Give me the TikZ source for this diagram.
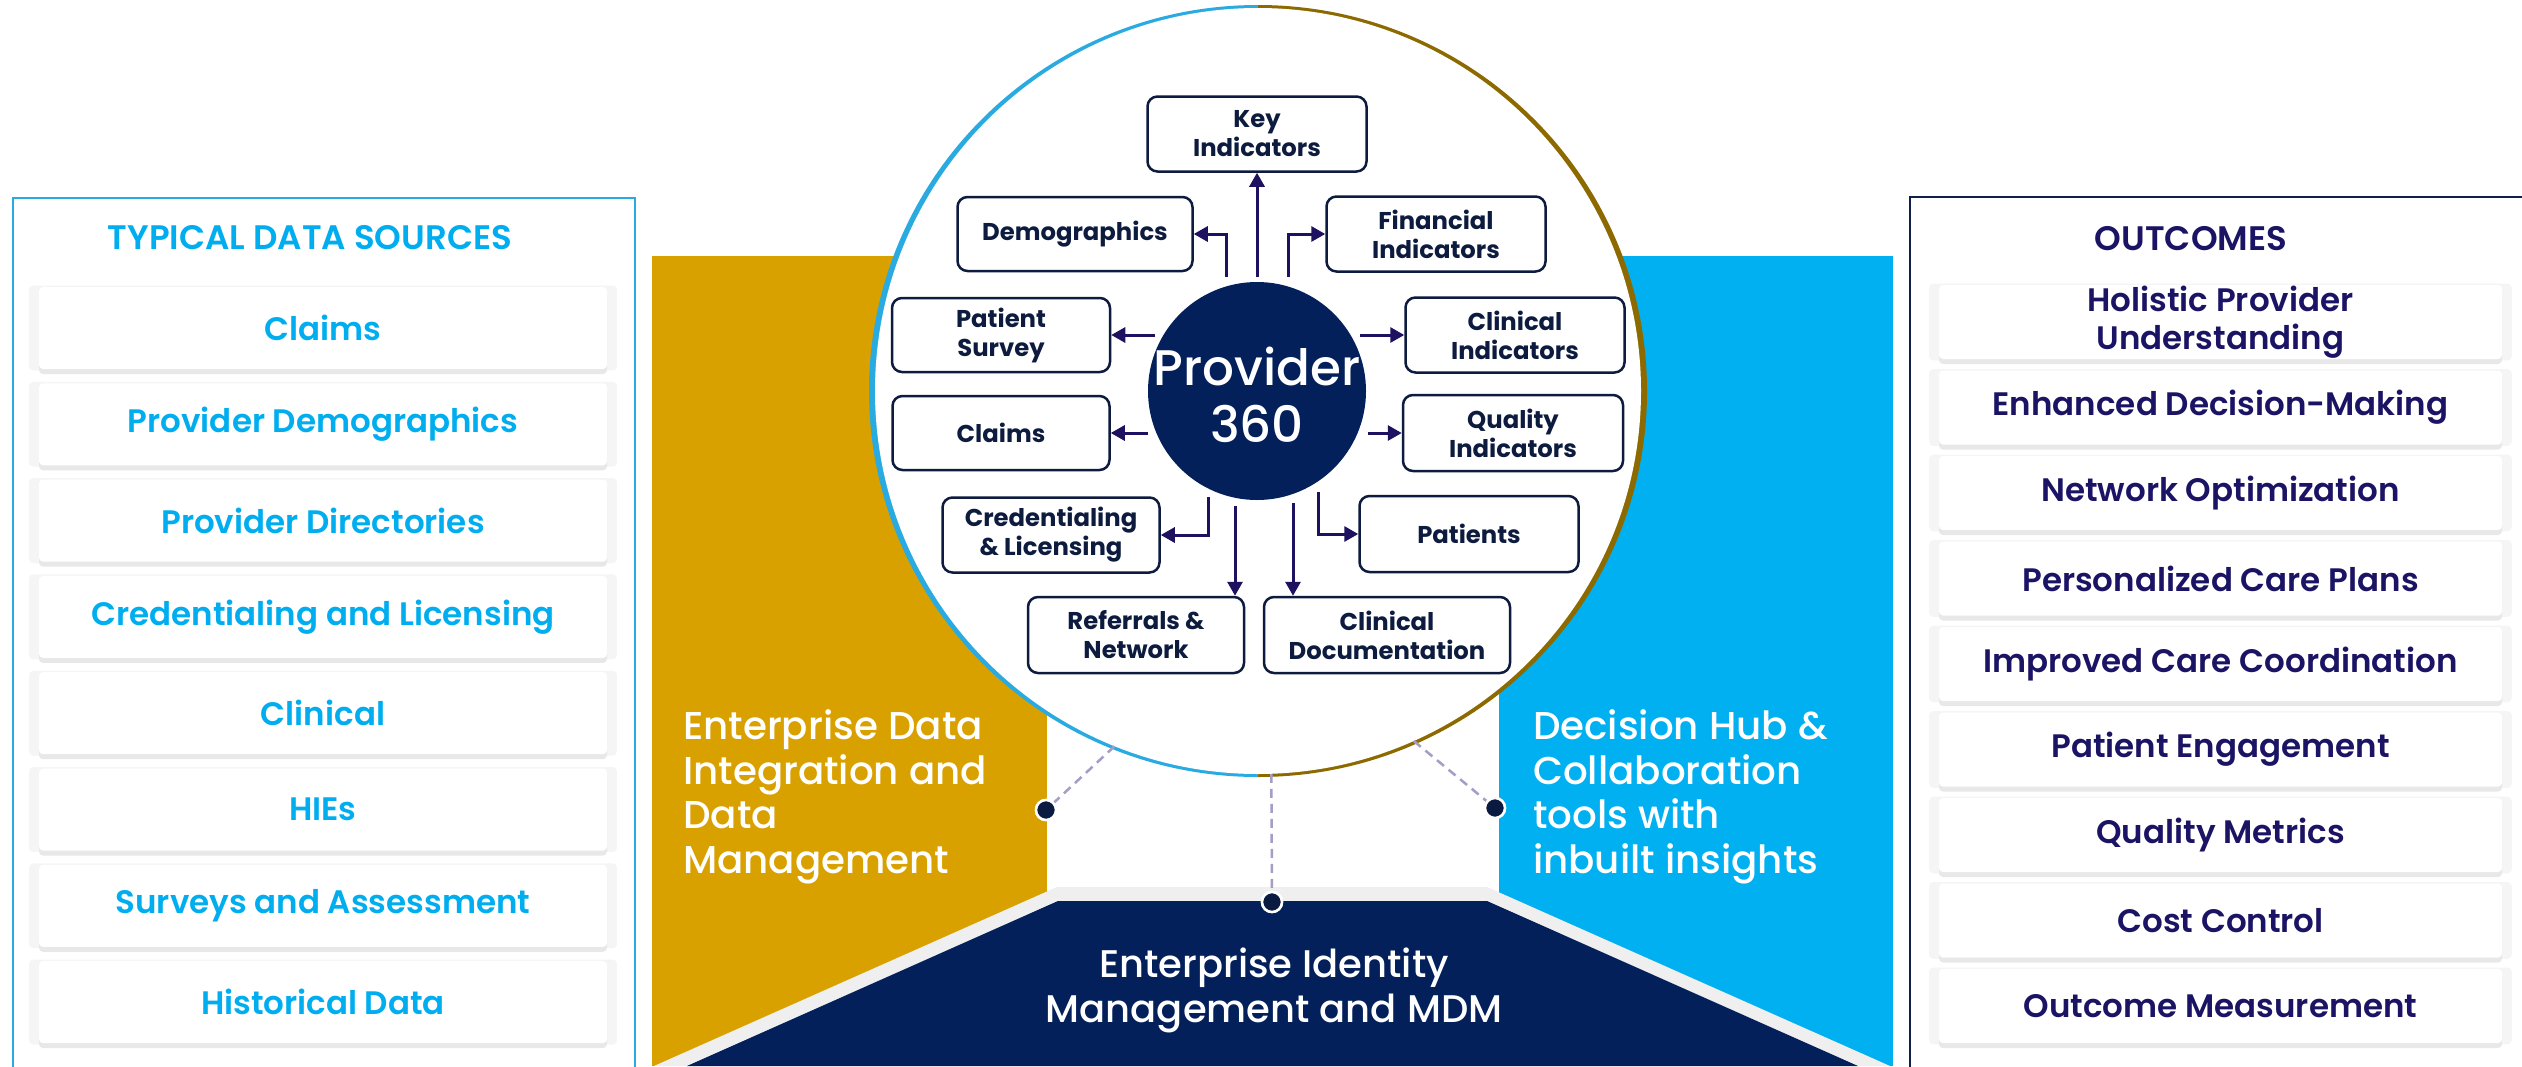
\documentclass[tikz,border=0pt]{standalone}
\usepackage{fontspec}
\setmainfont{Poppins}
\newfontfamily\pmed{Poppins Medium}
\newfontfamily\psemi{Poppins SemiBold}
\newfontfamily\pbold{Poppins Bold}
\usetikzlibrary{arrows.meta,shadows,calc}
\definecolor{cyanT}{HTML}{00AEEF}
\definecolor{cyanB}{HTML}{29ABE2}
\definecolor{outT}{HTML}{1B1464}
\definecolor{navyB}{HTML}{0F1E4A}
\definecolor{goldP}{HTML}{D9A100}
\definecolor{blueP}{HTML}{00B0F0}
\definecolor{navyP}{HTML}{03205B}
\definecolor{greyB}{HTML}{EFEFEF}
\definecolor{ringR}{HTML}{8C6A00}
\definecolor{boxN}{HTML}{0D1B3E}
\definecolor{arrC}{HTML}{1D1160}
\definecolor{dashC}{HTML}{A39DC8}
\definecolor{dotC}{HTML}{0A1A40}
\begin{document}
\begin{tikzpicture}[x=1pt,y=-1pt,
  card/.style={rectangle, rounded corners=4, fill=white, inner sep=0, align=center,
    drop shadow={shadow xshift=0pt, shadow yshift=0pt, shadow scale=1.035, fill=black!4, opacity=1},
    drop shadow={shadow xshift=0pt, shadow yshift=-5pt, fill=black!9, opacity=1},
    font=\psemi\fontsize{32.5}{38}\selectfont},
  srccard/.style={card, minimum width=568, minimum height=82, text=cyanT},
  outcard/.style={card, minimum width=563, minimum height=74, text=outT},
  ibox/.style={rectangle, rounded corners=10, draw=boxN, line width=2.5, fill=white,
    inner sep=0, align=center, text=boxN, font=\pbold\fontsize{24.3}{29}\selectfont},
  arr/.style={draw=arrC, line width=3, -{Triangle[length=14pt,width=15pt]}},
  dashl/.style={draw=dashC, line width=2.5, dash pattern=on 9pt off 6pt},
  dotn/.style={circle, fill=dotC, draw=white, line width=2.5, minimum size=20, inner sep=0},
  ptext/.style={text=white, inner sep=0, align=left, font=\pmed\fontsize{38.8}{44.5}\selectfont}
]
\useasboundingbox (0,0) rectangle (2522,1066);
\clip (0,0) rectangle (2522,1066);
\fill[white] (0,0) rectangle (2522,1066);

% ---------- side boxes ----------
\draw[cyanB, line width=2.5] (13,198) rectangle (635,1090);
\draw[navyB, line width=2.5] (1910,197) rectangle (2560,1090);
\node[text=cyanT, font=\psemi\fontsize{34}{40}\selectfont, inner sep=0] (srchead) at (310,238) {TYPICAL DATA SOURCES};
\node[text=outT, font=\psemi\fontsize{34}{40}\selectfont, inner sep=0] (outhead) at (2191,239) {OUTCOMES};
\foreach \t [count=\i] in {Claims, Provider Demographics, Provider Directories, Credentialing and Licensing, Clinical, HIEs, Surveys and Assessment, Historical Data}
  \node[srccard] (src\i) at (323,{328+96.3*(\i-1)}) {\t};
\foreach \t [count=\i] in {{Holistic Provider\\Understanding}, Enhanced Decision-Making, Network Optimization, Personalized Care Plans, Improved Care Coordination, Patient Engagement, Quality Metrics, Cost Control, Outcome Measurement}
  \node[outcard] (out\i) at (2220.5,{322+85.5*(\i-1)}) {\t};

% ---------- panels ----------
\fill[goldP] (652,256) rectangle (1047,1066);
\fill[blueP] (1499,256) rectangle (1893,1066);
\fill[greyB] (1057,887) -- (1487,887) -- (1890,1066) -- (654,1066) -- cycle;
\fill[navyP] (1058,901) -- (1487,901) -- (1858,1066) -- (687,1066) -- cycle;
\node[ptext, anchor=west] (goldtxt) at (683,797) {Enterprise Data\\Integration and\\Data\\Management};
\node[ptext, anchor=west] (bluetxt) at (1533,797) {Decision Hub \&\\Collaboration\\tools with\\inbuilt insights};
\node[text=white, inner sep=0, align=center, font=\pmed\fontsize{38.5}{45}\selectfont] (mdmtxt) at (1274,990) {Enterprise Identity\\Management and MDM};

% ---------- big circle ----------
\begin{scope}
  \clip (0,0) rectangle (1258,1066);
  \fill[cyanB] (1258,391) ellipse [x radius=389, y radius=386];
\end{scope}
\begin{scope}
  \clip (1258,0) rectangle (2522,1066);
  \fill[ringR] (1258,391) ellipse [x radius=389, y radius=386];
\end{scope}
\node[circle, fill=white, minimum size=766, inner sep=0] (big) at (1258,391) {};

% dashed connectors and dots
\node[dotn] (dL) at (1046,810) {};
\node[dotn] (dR) at (1495,808) {};
\node[dotn] (dM) at (1272,902) {};
\draw[dashl] (big.248.7) -- (dL);
\draw[dashl] (big.294.1) -- (dR);
\draw[dashl] (big.272) -- (dM);
\node[dotn] at (dL) {};
\node[dotn] at (dR) {};
\node[dotn] at (dM) {};

% inner circle
\node[circle, fill=navyP, minimum size=218, inner sep=0] (p360) at (1257,391) {};
\node[text=white, inner sep=0, align=center, font=\pmed\fontsize{50}{57}\selectfont] (p360t) at (1257,395) {Provider\\360};

% boxes
\node[ibox, minimum width=219, minimum height=75] (ki) at (1257,134) {Key\\Indicators};
\node[ibox, minimum width=235, minimum height=74] (demo) at (1075,234) {Demographics};
\node[ibox, minimum width=219, minimum height=75] (fin) at (1436,234) {Financial\\Indicators};
\node[ibox, minimum width=218, minimum height=74] (ps) at (1001,335) {Patient\\Survey};
\node[ibox, minimum width=219, minimum height=75] (ci) at (1515,335) {Clinical\\Indicators};
\node[ibox, minimum width=217, minimum height=74] (cl) at (1001,433) {Claims};
\node[ibox, minimum width=220, minimum height=76] (qi) at (1513,433) {Quality\\Indicators};
\node[ibox, minimum width=217, minimum height=75] (cred) at (1051,535) {Credentialing\\\& Licensing};
\node[ibox, minimum width=219, minimum height=76] (pat) at (1469,534) {Patients};
\node[ibox, minimum width=216, minimum height=76] (ref) at (1136,635) {Referrals \&\\Network};
\node[ibox, minimum width=246, minimum height=76] (cd) at (1387,635) {Clinical\\Documentation};

% arrow start points
\coordinate (sKI) at (1257,277);
\coordinate (sDE) at (1226,277);
\coordinate (sFI) at (1288,277);
\coordinate (sPS) at (1155,335);
\coordinate (sCI) at (1360,335);
\coordinate (sCL) at (1148,433);
\coordinate (sQI) at (1368,433);
\coordinate (sCR) at (1208,497);
\coordinate (sPA) at (1318,492);
\coordinate (sRE) at (1235,506);
\coordinate (sCD) at (1293,503);

\draw[arr] (sKI) -- (ki.south);
\draw[arr] (sDE) |- (demo.east);
\draw[arr] (sFI) |- (fin.west);
\draw[arr] (sPS) -- (ps.east);
\draw[arr] (sCI) -- (ci.west);
\draw[arr] (sCL) -- (cl.east);
\draw[arr] (sQI) -- (qi.west);
\draw[arr] (sCR) |- (cred.east);
\draw[arr] (sPA) |- (pat.west);
\draw[arr] (sRE) -- (sRE |- ref.north);
\draw[arr] (sCD) -- (sCD |- cd.north);
\end{tikzpicture}
\end{document}
